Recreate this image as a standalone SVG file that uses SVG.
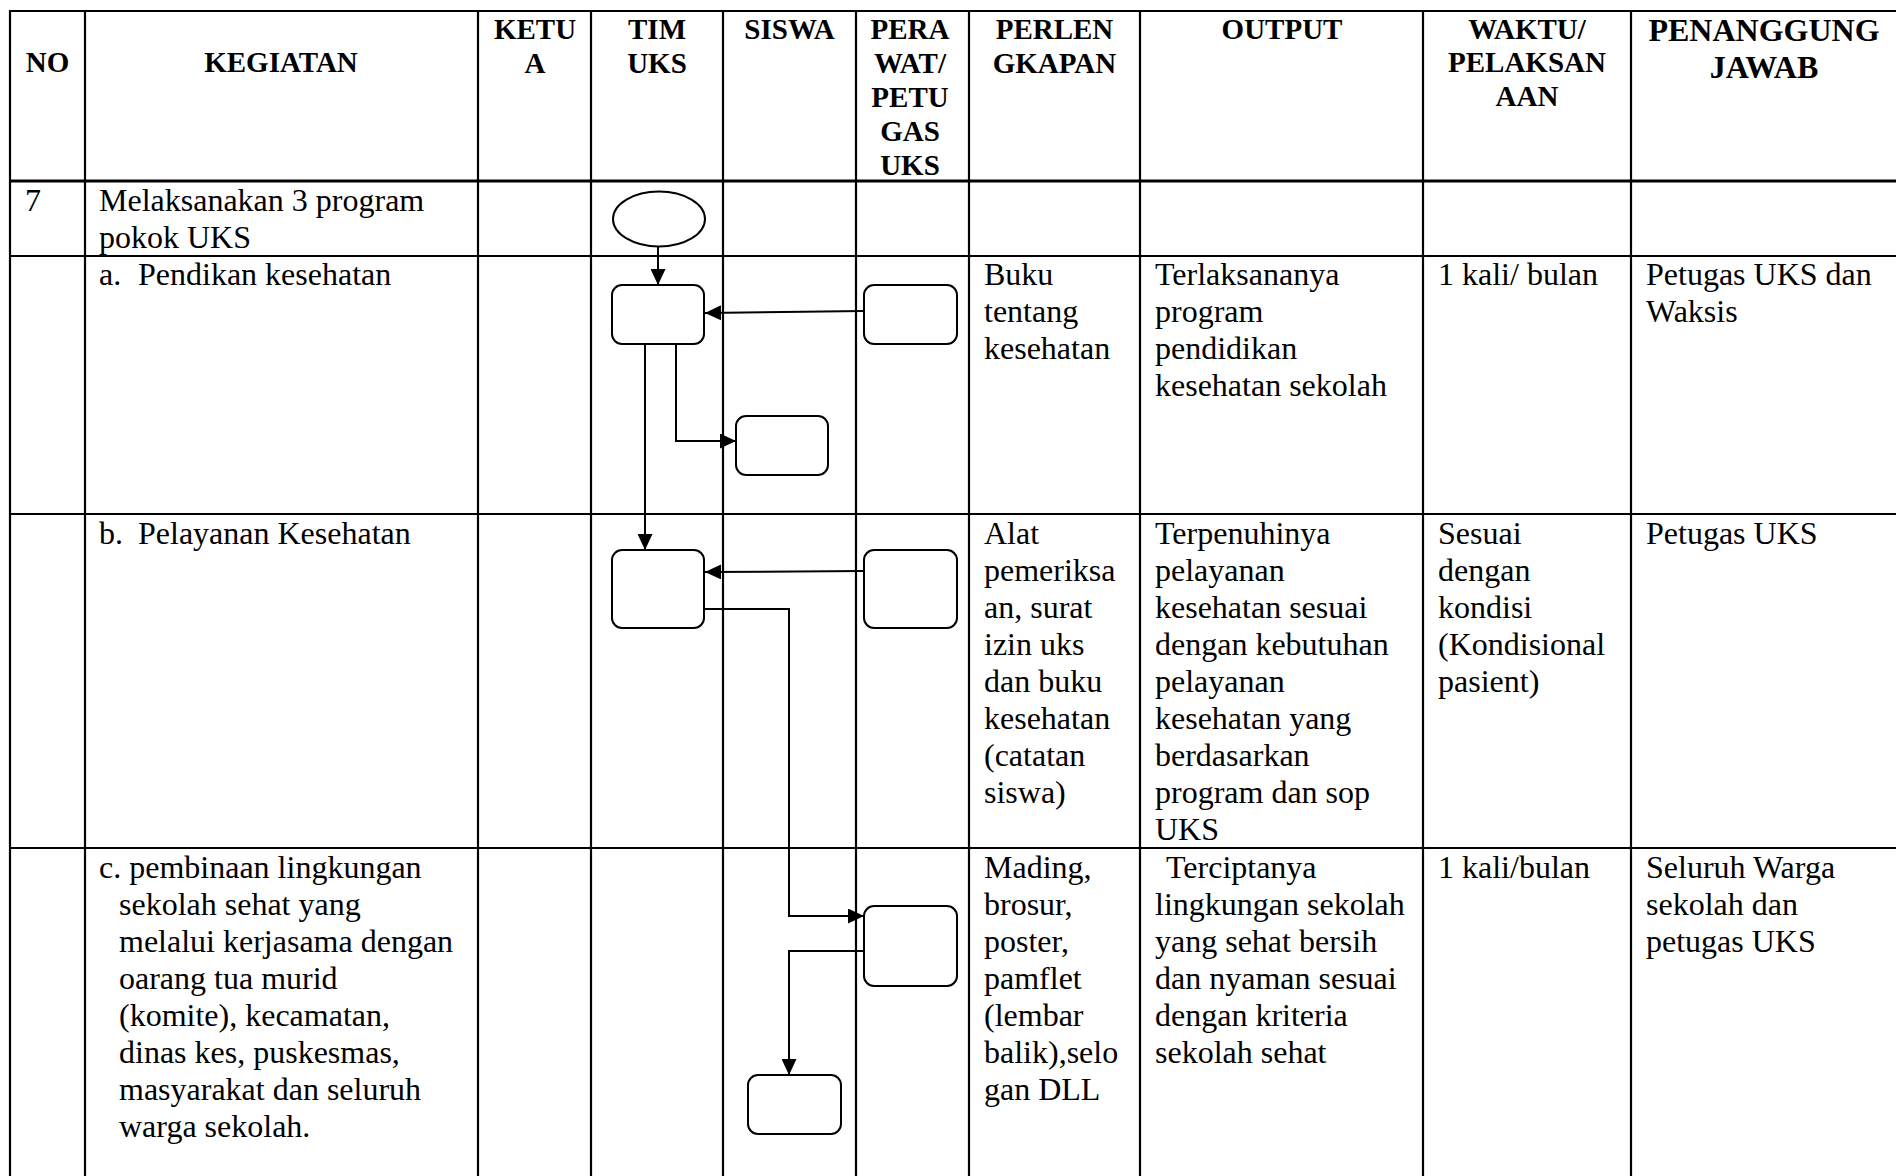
<svg xmlns="http://www.w3.org/2000/svg" width="1896" height="1176" viewBox="0 0 1896 1176">
<defs>
<style>
.grid line{stroke:#000;stroke-width:2.2}
.h{font-family:"Liberation Serif","Times New Roman",serif;font-weight:bold;font-size:29px;fill:#000;text-anchor:middle}
.hb{font-size:32px}
.t{font-family:"Liberation Serif","Times New Roman",serif;font-size:32px;fill:#000}
.node{fill:#fff;stroke:#000;stroke-width:2}
.conn{fill:none;stroke:#000;stroke-width:2}
</style>
<marker id="arr" markerUnits="userSpaceOnUse" markerWidth="16" markerHeight="15" refX="16" refY="7.5" orient="auto">
<path d="M0,0 L16,7.5 L0,15 z" fill="#000"/>
</marker>
</defs>
<rect width="1896" height="1176" fill="#fff"/>
<g class="grid" id="table">
<line x1="9" y1="11" x2="1900" y2="11"/>
<line x1="9" y1="181" x2="1900" y2="181" style="stroke-width:3"/>
<line x1="9" y1="256" x2="1900" y2="256"/>
<line x1="9" y1="514" x2="1900" y2="514"/>
<line x1="9" y1="848" x2="1900" y2="848"/>
<line x1="10" y1="10" x2="10" y2="1180"/>
<line x1="85" y1="10" x2="85" y2="1180"/>
<line x1="478" y1="10" x2="478" y2="1180"/>
<line x1="591" y1="10" x2="591" y2="1180"/>
<line x1="723" y1="10" x2="723" y2="1180"/>
<line x1="856" y1="10" x2="856" y2="1180"/>
<line x1="969" y1="10" x2="969" y2="1180"/>
<line x1="1140" y1="10" x2="1140" y2="1180"/>
<line x1="1423" y1="10" x2="1423" y2="1180"/>
<line x1="1631" y1="10" x2="1631" y2="1180"/>
</g>
<g id="header">
<text class="h" x="47.5" y="72">NO</text>
<text class="h" x="281" y="72">KEGIATAN</text>
<text class="h" x="535" y="38.5">KETU<tspan x="535" dy="34">A</tspan></text>
<text class="h" x="657" y="38.5">TIM<tspan x="657" dy="34">UKS</tspan></text>
<text class="h" x="789.5" y="38.5">SISWA</text>
<text class="h" x="910" y="38.5">PERA<tspan x="910" dy="34">WAT/</tspan><tspan x="910" dy="34">PETU</tspan><tspan x="910" dy="34">GAS</tspan><tspan x="910" dy="34">UKS</tspan></text>
<text class="h" x="1054.5" y="38.5">PERLEN<tspan x="1054.5" dy="34">GKAPAN</tspan></text>
<text class="h" x="1282" y="38.5">OUTPUT</text>
<text class="h" x="1527" y="38.5">WAKTU/<tspan x="1527" dy="33.5">PELAKSAN</tspan><tspan x="1527" dy="33.5">AAN</tspan></text>
<text class="h hb" x="1764" y="41">PENANGGUNG<tspan x="1764" dy="37">JAWAB</tspan></text>
</g>
<g id="row7">
<text class="t" x="25" y="211">7</text>
<text class="t" x="99" y="211">Melaksanakan 3 program<tspan x="99" dy="37">pokok UKS</tspan></text>
</g>
<g id="rowA">
<text class="t" y="285"><tspan x="99">a.</tspan><tspan x="138">Pendikan kesehatan</tspan></text>
<text class="t" x="984" y="285">Buku<tspan x="984" dy="37">tentang</tspan><tspan x="984" dy="37">kesehatan</tspan></text>
<text class="t" x="1155" y="285">Terlaksananya<tspan x="1155" dy="37">program</tspan><tspan x="1155" dy="37">pendidikan</tspan><tspan x="1155" dy="37">kesehatan sekolah</tspan></text>
<text class="t" x="1438" y="285">1 kali/ bulan</text>
<text class="t" x="1646" y="285">Petugas UKS dan<tspan x="1646" dy="37">Waksis</tspan></text>
</g>
<g id="rowB">
<text class="t" y="544"><tspan x="99">b.</tspan><tspan x="138">Pelayanan Kesehatan</tspan></text>
<text class="t" x="984" y="544">Alat<tspan x="984" dy="37">pemeriksa</tspan><tspan x="984" dy="37">an, surat</tspan><tspan x="984" dy="37">izin uks</tspan><tspan x="984" dy="37">dan buku</tspan><tspan x="984" dy="37">kesehatan</tspan><tspan x="984" dy="37">(catatan</tspan><tspan x="984" dy="37">siswa)</tspan></text>
<text class="t" x="1155" y="544">Terpenuhinya<tspan x="1155" dy="37">pelayanan</tspan><tspan x="1155" dy="37">kesehatan sesuai</tspan><tspan x="1155" dy="37">dengan kebutuhan</tspan><tspan x="1155" dy="37">pelayanan</tspan><tspan x="1155" dy="37">kesehatan yang</tspan><tspan x="1155" dy="37">berdasarkan</tspan><tspan x="1155" dy="37">program dan sop</tspan><tspan x="1155" dy="37">UKS</tspan></text>
<text class="t" x="1438" y="544">Sesuai<tspan x="1438" dy="37">dengan</tspan><tspan x="1438" dy="37">kondisi</tspan><tspan x="1438" dy="37">(Kondisional</tspan><tspan x="1438" dy="37">pasient)</tspan></text>
<text class="t" x="1646" y="544">Petugas UKS</text>
</g>
<g id="rowC">
<text class="t" x="99" y="878">c. pembinaan lingkungan<tspan x="119" dy="37">sekolah sehat yang</tspan><tspan x="119" dy="37">melalui kerjasama dengan</tspan><tspan x="119" dy="37">oarang tua murid</tspan><tspan x="119" dy="37">(komite), kecamatan,</tspan><tspan x="119" dy="37">dinas kes, puskesmas,</tspan><tspan x="119" dy="37">masyarakat dan seluruh</tspan><tspan x="119" dy="37">warga sekolah.</tspan></text>
<text class="t" x="984" y="878">Mading,<tspan x="984" dy="37">brosur,</tspan><tspan x="984" dy="37">poster,</tspan><tspan x="984" dy="37">pamflet</tspan><tspan x="984" dy="37">(lembar</tspan><tspan x="984" dy="37">balik),selo</tspan><tspan x="984" dy="37">gan DLL</tspan></text>
<text class="t" x="1166" y="878">Terciptanya<tspan x="1155" dy="37">lingkungan sekolah</tspan><tspan x="1155" dy="37">yang sehat bersih</tspan><tspan x="1155" dy="37">dan nyaman sesuai</tspan><tspan x="1155" dy="37">dengan kriteria</tspan><tspan x="1155" dy="37">sekolah sehat</tspan></text>
<text class="t" x="1438" y="878">1 kali/bulan</text>
<text class="t" x="1646" y="878">Seluruh Warga<tspan x="1646" dy="37">sekolah dan</tspan><tspan x="1646" dy="37">petugas UKS</tspan></text>
</g>
<g id="connectors">
<line class="conn" x1="658" y1="246.5" x2="658" y2="285" marker-end="url(#arr)"/>
<line class="conn" x1="864" y1="311" x2="705" y2="313" marker-end="url(#arr)"/>
<path class="conn" d="M676,344 V441 H736" marker-end="url(#arr)"/>
<path class="conn" d="M645,344 V550" marker-end="url(#arr)"/>
<line class="conn" x1="864" y1="571" x2="705" y2="572" marker-end="url(#arr)"/>
<path class="conn" d="M704,609 H789 V916 H864" marker-end="url(#arr)"/>
<path class="conn" d="M864,951 H789 V1075" marker-end="url(#arr)"/>
</g>
<g id="start"><ellipse class="node" cx="659" cy="219" rx="46" ry="27.5"/></g>
<g id="timA"><rect class="node" x="612" y="285" width="92" height="59" rx="10"/></g>
<g id="perawatA"><rect class="node" x="864" y="285" width="93" height="59" rx="10"/></g>
<g id="siswaA"><rect class="node" x="736" y="416" width="92" height="59" rx="10"/></g>
<g id="timB"><rect class="node" x="612" y="550" width="92" height="78" rx="10"/></g>
<g id="perawatB"><rect class="node" x="864" y="550" width="93" height="78" rx="10"/></g>
<g id="perawatC"><rect class="node" x="864" y="906" width="93" height="80" rx="10"/></g>
<g id="siswaC"><rect class="node" x="748" y="1075" width="93" height="59" rx="10"/></g>
</svg>
